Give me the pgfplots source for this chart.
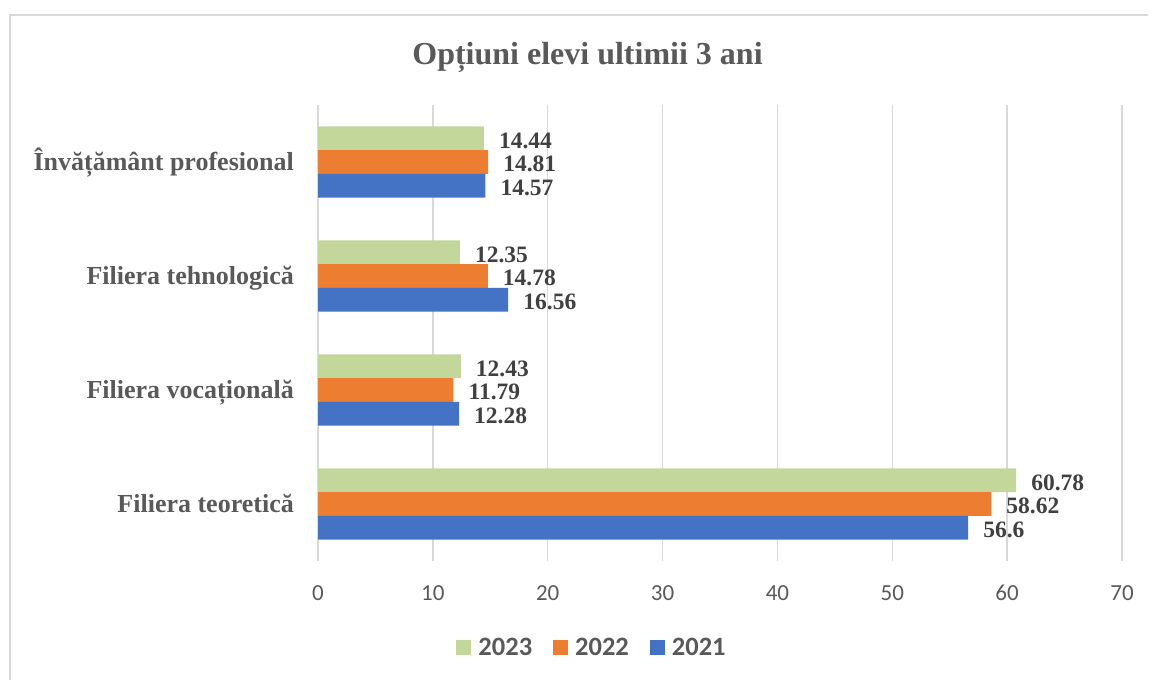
\documentclass[border=0pt]{standalone}
\usepackage{fontspec}
\setmainfont{Liberation Serif}
\newfontfamily\tickfont{Carlito}
\usepackage{pgfplots}
\pgfplotsset{compat=1.18}
\definecolor{c23}{HTML}{C4D79B}
\definecolor{c22}{HTML}{ED7D31}
\definecolor{c21}{HTML}{4472C4}
\definecolor{txt}{HTML}{595959}
\definecolor{lab}{HTML}{404040}
\definecolor{grd}{HTML}{D9D9D9}
\begin{document}
\begin{tikzpicture}[x=1pt,y=1pt]
\draw[grd, line width=1.5pt] (10,0) -- (10,665) -- (1148,665);
\node[anchor=base, text=txt, font=\fontsize{32}{36}\selectfont\bfseries, inner sep=0pt] at (587.5,615) {Opțiuni elevi ultimii 3 ani};
\begin{axis}[
  at={(318pt,119pt)}, anchor=south west,
  scale only axis, width=804pt, height=456pt,
  xbar, bar width=0.208,
  xmin=0, xmax=70, ymin=-0.5, ymax=3.5,
  xtick={0,10,...,70},
  ytick={0,1,2,3},
  yticklabels={Filiera teoretică, Filiera vocațională, Filiera tehnologică, Învățământ profesional},
  /pgf/number format/assume math mode=true,
  axis line style={draw=none},
  major tick length=0pt,
  tick style={draw=none},
  xmajorgrids=true,
  grid style={grd, line width=1.5pt},
  xticklabel style={font=\tickfont\fontsize{23}{26}\selectfont, text=txt, inner sep=0pt, anchor=north, text height=15pt, text depth=0pt, yshift=-24pt},
  yticklabel style={font=\fontsize{26}{30}\selectfont\bfseries, text=txt, inner sep=0pt, anchor=east, text height=18pt, text depth=0pt, xshift=-24pt},
  point meta=explicit symbolic,
  nodes near coords,
  nodes near coords style={font=\fontsize{23.5}{26}\selectfont\bfseries, text=lab, anchor=west, inner sep=0pt, text height=16pt, text depth=0pt, xshift=15pt, yshift=-2pt},
  legend columns=3,
  legend style={at={(0.3396,-0.1886)}, anchor=center, draw=none, fill=none, inner sep=0pt, outer sep=0pt, column sep=0pt,
    font=\tickfont\bfseries\fontsize{26.5}{30}\selectfont, text=txt,
    nodes={inner sep=0pt, text height=17pt, text depth=0pt},
    /tikz/every odd column/.append style={column sep=7pt},
    /tikz/every even column/.append style={column sep=21pt}},
]
\addplot[xbar, bar width=0.208, bar shift=0.208, fill=c23, draw=none,
  legend image code/.code={\fill[c23] (0pt,-7.5pt) rectangle (15pt,7.5pt);}]
  coordinates {(60.78,0) [60.78] (12.43,1) [12.43] (12.35,2) [12.35] (14.44,3) [14.44]};
\addlegendentry{2023}
\addplot[xbar, bar width=0.208, bar shift=0, fill=c22, draw=none,
  legend image code/.code={\fill[c22] (0pt,-7.5pt) rectangle (15pt,7.5pt);}]
  coordinates {(58.62,0) [58.62] (11.79,1) [11.79] (14.78,2) [14.78] (14.81,3) [14.81]};
\addlegendentry{2022}
\addplot[xbar, bar width=0.208, bar shift=-0.208, fill=c21, draw=none,
  legend image code/.code={\fill[c21] (0pt,-7.5pt) rectangle (15pt,7.5pt);}]
  coordinates {(56.6,0) [56.6] (12.28,1) [12.28] (16.56,2) [16.56] (14.57,3) [14.57]};
\addlegendentry{2021}
\end{axis}
\pgfresetboundingbox
\path[use as bounding box] (0,0) rectangle (1151,680);
\end{tikzpicture}
\end{document}
